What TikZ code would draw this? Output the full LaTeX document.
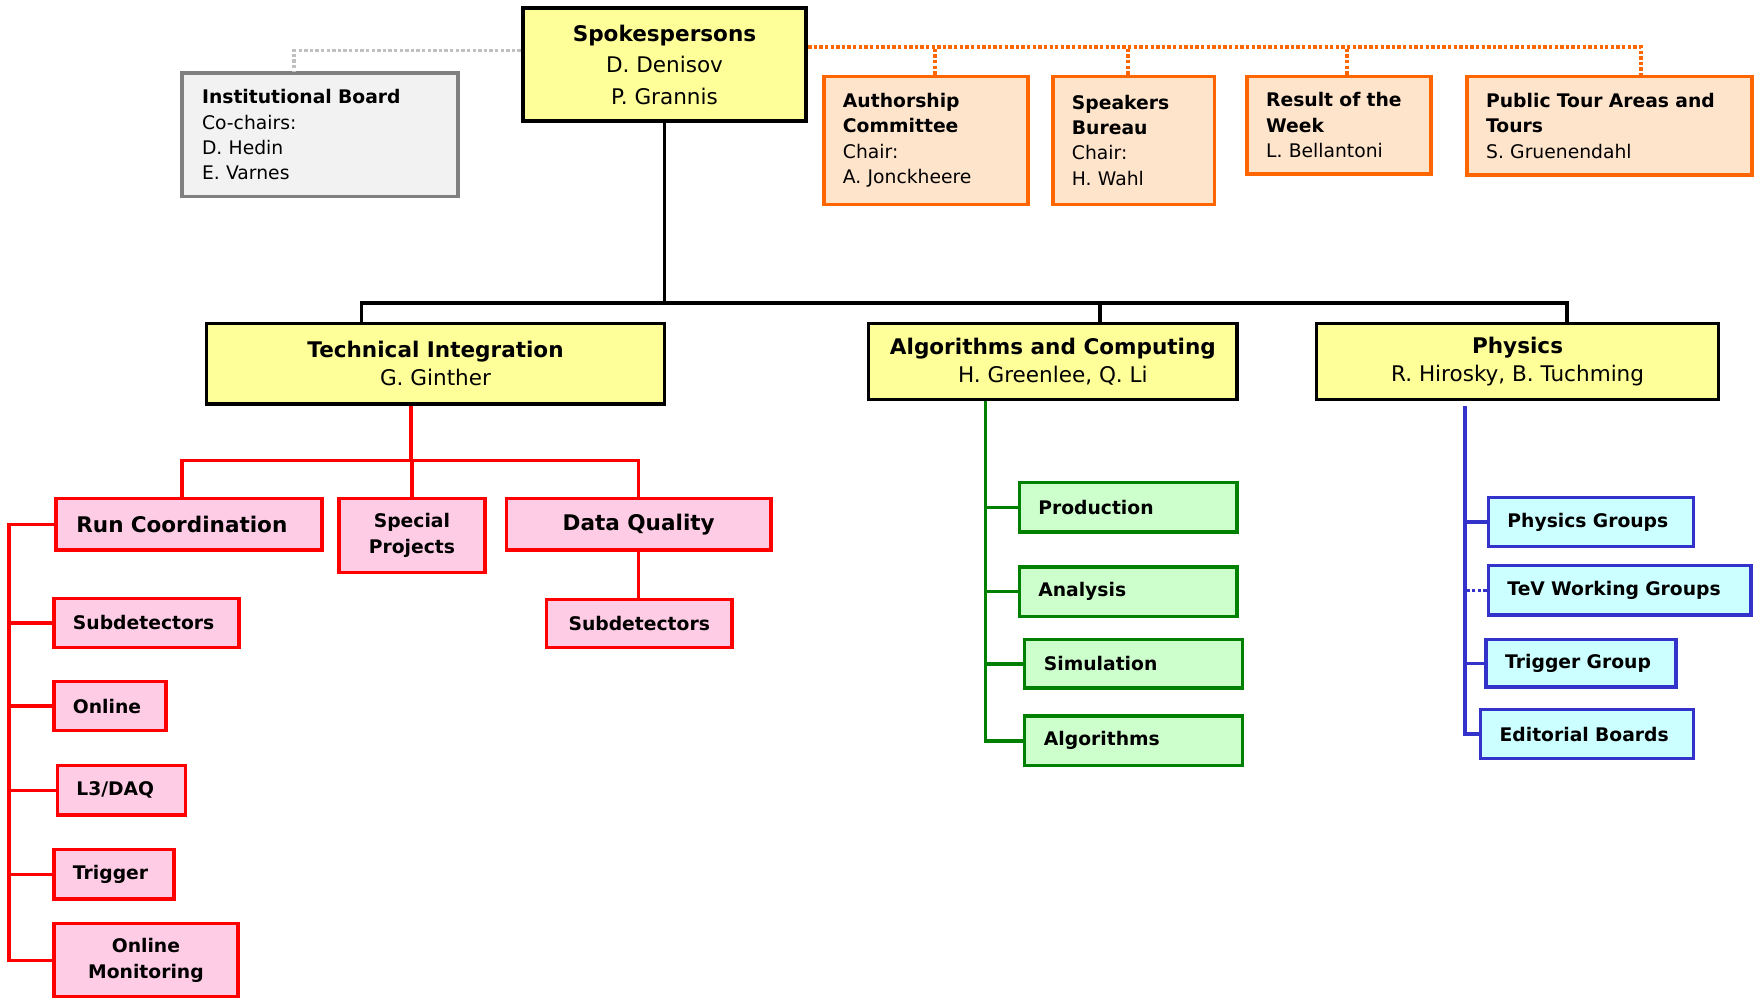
\documentclass[tikz,border=0pt]{standalone}
\usepackage{fontspec}
\setmainfont{DejaVu Sans}
\usepackage{tikz}
\usepackage{xcolor}

\definecolor{headyellow}{HTML}{FFFF99}
\definecolor{boardgrey}{HTML}{F2F2F2}
\definecolor{boardline}{HTML}{808080}
\definecolor{dotgrey}{HTML}{C0C0C0}
\definecolor{orangeline}{HTML}{FF6600}
\definecolor{orangefill}{HTML}{FFE4CC}
\definecolor{pinkfill}{HTML}{FFCCE6}
\definecolor{greenline}{HTML}{008000}
\definecolor{greenfill}{HTML}{CCFFCC}
\definecolor{blueline}{HTML}{3333CC}
\definecolor{bluefill}{HTML}{CCFFFF}

\begin{document}
\begin{tikzpicture}[x=0.5pt,y=-0.5pt,
every node/.style={rectangle, inner sep=0pt},
bigtext/.style={font=\fontsize{9.6}{12.5}\selectfont},
smalltext/.style={font=\fontsize{8.35}{11.3}\selectfont},
padded/.style={inner xsep=8.5pt, text width=#1, align=left},
headbox/.style={draw=black, fill=headyellow, line width=1.5pt, align=center, bigtext},
boardbox/.style={draw=boardline, fill=boardgrey, line width=1.5pt, smalltext},
orangebox/.style={draw=orangeline, fill=orangefill, line width=1.5pt, smalltext},
redbox/.style={draw=red, fill=pinkfill, line width=1.5pt, smalltext},
greenbox/.style={draw=greenline, fill=greenfill, line width=1.5pt, smalltext},
bluebox/.style={draw=blueline, fill=bluefill, line width=1.5pt, smalltext},
dots/.style={line width=1.5pt, dash pattern=on 1.5pt off 1pt},
blackline/.style={line width=1.5pt, black},
redlink/.style={line width=1.5pt, red},
greenlink/.style={line width=1.5pt, greenline},
bluelink/.style={line width=1.5pt, blueline}]
%\draw[help lines] (0,0) grid[step=100] (1568,890);
\useasboundingbox (0,0) rectangle (1568,890);

% top row
\node[headbox, line width=2pt, font=\fontsize{9.6}{14}\selectfont, minimum width=126pt, minimum height=50.5pt] (spokes) at (592,57.5) {\textbf{Spokespersons}\\D. Denisov\\P. Grannis};
\node[boardbox, minimum width=123pt, minimum height=55pt, inner xsep=9pt, text width=105pt, align=left] (inst-board) at (285,120) {\textbf{Institutional Board}\\Co-chairs:\\D. Hedin\\E. Varnes};
\node[orangebox, padded=74pt, minimum width=91pt, minimum height=57pt] (author-comm) at (825,125) {\textbf{Authorship}\\\textbf{Committee}\\Chair:\\A. Jonckheere};
\node[orangebox, padded=55pt, minimum width=72pt, minimum height=57pt] (speakers) at (1010,125) {\textbf{Speakers}\\\textbf{Bureau}\\Chair:\\H. Wahl};
\node[orangebox, padded=65pt, minimum width=82pt, minimum height=43.5pt] (result-week) at (1193,111.5) {\textbf{Result of the}\\\textbf{Week}\\L. Bellantoni};
\node[orangebox, padded=110pt, minimum width=127pt, minimum height=44pt] (tours) at (1434,112) {\textbf{Public Tour Areas and}\\\textbf{Tours}\\S. Gruenendahl};

% departments
\node[headbox, minimum width=204pt, minimum height=36pt] (tech-int) at (388,324) {\textbf{Technical Integration}\\G. Ginther};
\node[headbox, minimum width=164pt, minimum height=34pt] (algo-comp) at (938,322) {\textbf{Algorithms and Computing}\\H. Greenlee, Q. Li};
\node[headbox, minimum width=179pt, minimum height=34pt] (physics) at (1352,322) {\textbf{Physics}\\R. Hirosky, B. Tuchming};

% technical integration
\node[redbox, bigtext, inner xsep=9pt, text width=100.5pt, align=left, minimum width=118.5pt, minimum height=23pt] (run-coord) at (168.5,467) {\textbf{Run Coordination}};
\node[redbox, align=center, minimum width=65pt, minimum height=33pt] (special) at (367,477) {\textbf{Special}\\\textbf{Projects}};
\node[redbox, bigtext, minimum width=118pt, minimum height=23pt] (data-qual) at (569,467) {\textbf{Data Quality}};
\node[redbox, minimum width=82.5pt, minimum height=21.5pt] (subdet-dq) at (569.5,555.5) {\textbf{Subdetectors}};
\node[redbox, padded=65.5pt, minimum width=82.5pt, minimum height=22pt] (subdet-rc) at (130.5,555) {\textbf{Subdetectors}};
\node[redbox, padded=33pt, minimum width=50pt, minimum height=22pt] (online) at (98,629) {\textbf{Online}};
\node[redbox, padded=40pt, minimum width=57pt, minimum height=22pt] (l3daq) at (108,704) {\textbf{L3/DAQ}};
\node[redbox, padded=36.5pt, minimum width=53.5pt, minimum height=22pt] (trigger) at (101.5,779) {\textbf{Trigger}};
\node[redbox, align=center, minimum width=82pt, minimum height=32.5pt] (online-mon) at (130,855.5) {\textbf{Online}\\\textbf{Monitoring}};

% algorithms and computing
\node[greenbox, padded=80pt, minimum width=97pt, minimum height=22pt] (production) at (1005,452) {\textbf{Production}};
\node[greenbox, padded=80pt, minimum width=97pt, minimum height=22pt] (analysis) at (1005,527) {\textbf{Analysis}};
\node[greenbox, padded=80pt, minimum width=97pt, minimum height=21.5pt] (simulation) at (1010,591.5) {\textbf{Simulation}};
\node[greenbox, padded=80pt, minimum width=97pt, minimum height=22pt] (algorithms) at (1010,660) {\textbf{Algorithms}};

% physics
\node[bluebox, padded=74.5pt, minimum width=91.5pt, minimum height=22pt] (phys-groups) at (1417.5,465) {\textbf{Physics Groups}};
\node[bluebox, padded=100pt, minimum width=117pt, minimum height=22pt] (tev-groups) at (1443,526) {\textbf{TeV Working Groups}};
\node[bluebox, padded=67.5pt, minimum width=84.5pt, minimum height=21pt] (trig-group) at (1408.5,591) {\textbf{Trigger Group}};
\node[bluebox, padded=78pt, minimum width=95pt, minimum height=22pt] (edit-boards) at (1414,654) {\textbf{Editorial Boards}};

% links at the top
\coordinate (grey-bus) at ([yshift=6.25pt]spokes.west);
\draw[dots, dotgrey] (grey-bus) -| ([xshift=-11.5pt]inst-board.north);
\coordinate (orange-bus) at ([yshift=7.75pt]spokes.east);
\draw[dots, orangeline] (orange-bus) -| ([xshift=14pt]tours.north);
\foreach \n/\s in {author-comm/4pt, speakers/-2.5pt, result-week/3.5pt}
  \draw[dots, orangeline] ([xshift=\s]\n.north) -- ([xshift=\s]\n.north |- orange-bus);

\coordinate (main-bus) at (592,270);
\draw[blackline] (spokes.south) -- (main-bus);
\draw[blackline] ([xshift=-33pt]tech-int.north) |- (main-bus) -| ([xshift=22pt]physics.north);
\draw[blackline] ([xshift=21pt]algo-comp.north) -- ([xshift=21pt]algo-comp.north |- main-bus);

% technical integration links
\coordinate (red-bus) at (366,410);
\draw[redlink] ([xshift=-11pt]tech-int.south) -- (red-bus);
\draw[redlink] ([xshift=-3.25pt]run-coord.north) |- (red-bus) -| (data-qual.north);
\draw[redlink] (special.north) -- (special.north |- red-bus);
\draw[redlink] (data-qual.south) -- (data-qual.south |- subdet-dq.north);
\coordinate (red-spine) at (8,467);
\draw[redlink] (run-coord.west) -- (red-spine) |- (online-mon.west);
\foreach \n in {subdet-rc, online, l3daq, trigger}
  \draw[redlink] (\n.west) -- (\n.west -| red-spine);

% algorithms links
\coordinate (green-spine) at ([xshift=-30pt]algo-comp.south);
\draw[greenlink] (green-spine) |- (algorithms.west);
\foreach \n in {production, analysis, simulation}
  \draw[greenlink] (\n.west) -- (\n.west -| green-spine);

% physics links
\coordinate (blue-spine) at (1305,362);
\draw[bluelink] (blue-spine) |- (edit-boards.west);
\foreach \n in {phys-groups, trig-group}
  \draw[bluelink] (\n.west) -- (\n.west -| blue-spine);
\draw[bluelink, dots] (tev-groups.west) -- (tev-groups.west -| blue-spine);
\end{tikzpicture}
\end{document}
